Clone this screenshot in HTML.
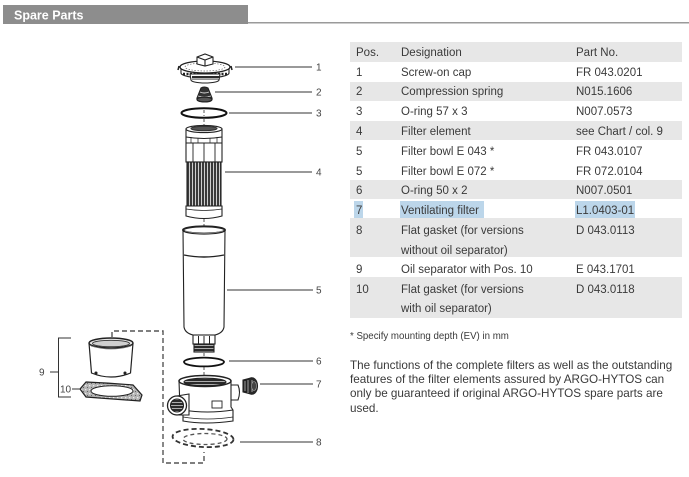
<!DOCTYPE html>
<html>
<head>
<meta charset="utf-8">
<style>
html,body{margin:0;padding:0;background:#fff;}
body{width:689px;height:477px;overflow:hidden;}
svg{display:block;}
text{font-family:"Liberation Sans",Arial,sans-serif;}
</style>
</head>
<body>
<svg width="689" height="477" viewBox="0 0 689 477" xmlns="http://www.w3.org/2000/svg">
<defs>
  <pattern id="pleat" width="3" height="10" patternUnits="userSpaceOnUse">
    <rect width="3" height="10" fill="#3a3a3a"/>
    <rect x="0" width="1" height="10" fill="#cfcfcf"/>
  </pattern>
  <pattern id="thread" width="4" height="3" patternUnits="userSpaceOnUse">
    <rect width="4" height="3" fill="#2a2a2a"/>
    <rect y="0" width="4" height="0.9" fill="#bbb"/>
  </pattern>
  <pattern id="speck" width="4" height="4" patternUnits="userSpaceOnUse">
    <rect width="4" height="4" fill="#b4b4b4"/>
    <rect x="1" y="1" width="1.3" height="1.3" fill="#ececec"/>
    <rect x="3" y="3" width="1" height="1" fill="#666"/>
  </pattern>
</defs>

<!-- Title bar -->
<rect x="3" y="5" width="245" height="19" fill="#8d8d8d"/>
<line x1="248" y1="22.7" x2="689" y2="22.7" stroke="#9a9a9a" stroke-width="1.5"/>
<text x="14" y="19.5" font-size="12.5" font-weight="bold" fill="#fff">Spare Parts</text>

<!-- ============ DRAWING ============ -->
<g stroke="#222" fill="#fff" stroke-width="1.1">

  <g stroke="#444" stroke-width="0.9" stroke-dasharray="3 2" fill="none">
    <line x1="204" y1="110" x2="204" y2="116"/>
    <line x1="204" y1="119" x2="204" y2="126"/>
    <line x1="204" y1="219" x2="204" y2="228"/>
    <line x1="204" y1="353" x2="204" y2="358"/>
    <line x1="204" y1="367" x2="204" y2="376"/>
  </g>

  <!-- 1: Screw-on cap -->
  <path d="M181,67 L181,73 A24,5 0 0 0 229,73 L229,67 Z" fill="#fff"/>
  <line x1="183" y1="74" x2="227" y2="74" stroke="#222" stroke-width="2.5" stroke-dasharray="2 1.5"/>
  <path d="M190,74 L191,80 A14,3 0 0 0 219,80 L220,74 Z" fill="#fff"/>
  <rect x="192" y="76" width="27" height="3.5" fill="url(#thread)" stroke="none"/>
  <ellipse cx="205" cy="67" rx="25" ry="6" fill="#fff" stroke-width="1.3"/>
  <path d="M179,66 L178,70 M231,66 L232,70" stroke-width="1.5"/>
  <ellipse cx="205" cy="67" rx="20" ry="4" fill="none" stroke="#666" stroke-width="0.7" stroke-dasharray="1.5 1.5"/>
  <path d="M197,57 L205,54 L213,57 L213,64 L205,66 L197,64 Z" fill="#fff"/>
  <path d="M197,57 L205,60 L213,57 M205,60 L205,66" fill="none"/>

  <!-- 2: Compression spring -->
  <path d="M201,88 Q204,86 208,88 L212,98 Q213,102 205,102 Q196,102 197,98 Z" fill="#333"/>
  <path d="M200,92 Q204,94 209,92 M198,96 Q204,98 211,96" stroke="#ddd" stroke-width="0.9" fill="none"/>
  <ellipse cx="204.5" cy="99.5" rx="7.5" ry="2.3" fill="#555" stroke="#222"/>

  <!-- 3: O-ring -->
  <ellipse cx="204" cy="113" rx="22.5" ry="4.8" fill="none" stroke="#111" stroke-width="2"/>

  <!-- 4: Filter element -->
  <rect x="186" y="129" width="36" height="33" fill="#fff"/>
  <ellipse cx="204" cy="129" rx="18" ry="3.6" fill="#fff"/>
  <ellipse cx="204" cy="128.5" rx="13" ry="2.2" fill="#555" stroke="#333"/>
  <path d="M186,137 Q204,140 222,137" fill="none"/>
  <path d="M186,143 L222,143 M193,143 L193,162 M204,143 L204,162 M215,143 L215,162" fill="none" stroke-width="0.9"/>
  <path d="M191,137 L191,143 M198,138 L198,143 M210,138 L210,143 M217,137 L217,143" fill="none" stroke-width="0.7"/>
  <rect x="187" y="162" width="34" height="44" fill="url(#pleat)" stroke="#222"/>
  <path d="M186,206 L186,216 Q204,221 222,216 L222,206 Z" fill="#fff"/>
  <path d="M186,209 Q204,212 222,209" fill="none" stroke-width="0.8"/>

  <!-- 5: Filter bowl -->
  <path d="M183,230 L184,327 Q185,333 193,335 L215,335 Q223,333 224,327 L225,230" fill="#fff"/>
  <ellipse cx="204" cy="230" rx="21" ry="3.6" fill="#fff" stroke-width="2"/>
  <path d="M185,231 Q204,236 223,231" fill="none" stroke="#888" stroke-width="0.8"/>
  <path d="M184,255 Q204,259 224,255" fill="none" stroke-width="1.4"/>
  <rect x="193" y="335" width="22" height="9" fill="#fff"/>
  <path d="M198.5,336 L198.5,344 M204,336 L204,344 M209.5,336 L209.5,344" fill="none" stroke-width="1"/>
  <rect x="194" y="344" width="20" height="8" fill="url(#thread)" stroke="#222"/>

  <!-- 6: O-ring -->
  <ellipse cx="204" cy="362" rx="20" ry="4.4" fill="none" stroke="#111" stroke-width="1.8"/>

  <!-- housing -->
  <path d="M228,385 L238,385 Q241,392 238,400 L229,400 Z" fill="#fff"/>
  <path d="M179,381 L180,408 L183,410 L183,421 Q205,425 233,421 L233,410 L231,407 L231,381 Z" fill="#fff"/>
  <path d="M183,410 Q207,414 233,410" fill="none"/>
  <path d="M183,417 Q207,421 233,417" fill="none" stroke-width="0.8"/>
  <ellipse cx="205" cy="381" rx="26" ry="5.5" fill="#fff" stroke-width="1.5"/>
  <ellipse cx="205" cy="382" rx="21" ry="3.8" fill="url(#thread)" stroke="#222"/>
  <rect x="212" y="401" width="10" height="7" fill="#fff" stroke-width="0.9"/>
  <path d="M177,396 L189,394 L189,415 L177,415 Z" fill="#fff"/>
  <circle cx="177" cy="405.5" r="9.5" fill="#fff" stroke-width="1.3"/>
  <circle cx="177" cy="405.5" r="6.5" fill="url(#thread)" stroke="#222"/>

  <!-- 7: Ventilating filter -->
  <path d="M243,380 L251,378 L251,394 L243,392 Z" fill="#222"/>
  <ellipse cx="252" cy="386" rx="5.5" ry="8.2" fill="#2a2a2a"/>
  <path d="M245,381 L245,391 M248,380 L248,393 M252,380 L252,392" stroke="#bbb" stroke-width="0.8" fill="none"/>
  <ellipse cx="254" cy="386" rx="2.5" ry="4.5" fill="#444" stroke="#aaa" stroke-width="0.6"/>

  <!-- 8: Flat gasket (dashed) -->
  <ellipse cx="203" cy="438" rx="30.5" ry="9" fill="none" stroke="#333" stroke-width="1.8" stroke-dasharray="5 3" transform="rotate(3 203 438)"/>
  <ellipse cx="205" cy="439" rx="22" ry="5.5" fill="none" stroke="#555" stroke-width="1.3" stroke-dasharray="4 3"/>

  <!-- dashed oil separator frame -->
  <path d="M112,337 L112,331 L163,331 L163,463 L204,463 L204,452" fill="none" stroke="#555" stroke-width="1.4" stroke-dasharray="5 3"/>

  <!-- 9: Oil separator cup -->
  <path d="M89,343 L91.5,373 Q111,381 130.5,373 L133,343" fill="#fff" stroke-width="1.2"/>
  <ellipse cx="111" cy="343" rx="22" ry="5" fill="#e6e6e6" stroke-width="1.5"/>
  <ellipse cx="111" cy="343.5" rx="18.5" ry="3.2" fill="#cfcfcf" stroke="#333" stroke-width="0.9"/>
  <path d="M91,346 Q111,352 131,346" fill="none" stroke="#777" stroke-width="0.7"/>
  <circle cx="96" cy="373" r="1" fill="#222"/>
  <circle cx="125" cy="373" r="1" fill="#222"/>

  <!-- 10: Flat gasket -->
  <path d="M80,389 L86,382 Q110,383 133,385 L142,395 L140,401 Q112,399 86,397 Z" fill="url(#speck)" stroke="#222" stroke-width="1.2"/>
  <ellipse cx="112" cy="391" rx="21" ry="5.3" fill="#fff" stroke="#222" stroke-width="1"/>

  <!-- bracket -->
  <path d="M71,338 L58.5,338 L58.5,397 L71,397" fill="none" stroke="#333" stroke-width="1"/>
</g>

<g stroke="#333" stroke-width="1">
  <line x1="235" y1="67" x2="312" y2="67"/>
  <line x1="215" y1="92" x2="312" y2="92"/>
  <line x1="229" y1="113" x2="312" y2="113"/>
  <line x1="225" y1="172" x2="312" y2="172"/>
  <line x1="227" y1="290" x2="313" y2="290"/>
  <line x1="229" y1="361" x2="313" y2="361"/>
  <line x1="260" y1="384" x2="313" y2="384"/>
  <line x1="240" y1="442" x2="313" y2="442"/>
  <line x1="50" y1="372" x2="58" y2="372"/>
  <line x1="72" y1="389" x2="80" y2="389"/>
</g>

<g font-size="10" fill="#444">
  <text x="316" y="70.5">1</text>
  <text x="316" y="95.5">2</text>
  <text x="316" y="116.5">3</text>
  <text x="316" y="175.5">4</text>
  <text x="316" y="293.5">5</text>
  <text x="316" y="364.5">6</text>
  <text x="316" y="387.5">7</text>
  <text x="316" y="445.5">8</text>
  <text x="39" y="375.5">9</text>
  <text x="60" y="392.5">10</text>
</g>

<!-- ============ TABLE ============ -->
<g fill="#e7e7e7">
  <rect x="350" y="42" width="332" height="20"/>
  <rect x="350" y="82" width="332" height="19"/>
  <rect x="350" y="121" width="332" height="19"/>
  <rect x="350" y="180" width="332" height="19"/>
  <rect x="350" y="218" width="332" height="39"/>
  <rect x="350" y="277" width="332" height="41"/>
</g>
<g fill="#bcd6ea">
  <rect x="354" y="201" width="9" height="17"/>
  <rect x="400" y="201" width="84" height="17"/>
  <rect x="575" y="201" width="60" height="17"/>
</g>
<g font-size="11.5" fill="#3a3a3a">
  <text x="356" y="56">Pos.</text><text x="401" y="56">Designation</text><text x="576" y="56">Part No.</text>
  <text x="356" y="76">1</text><text x="401" y="76">Screw-on cap</text><text x="576" y="76">FR 043.0201</text>
  <text x="356" y="95">2</text><text x="401" y="95">Compression spring</text><text x="576" y="95">N015.1606</text>
  <text x="356" y="115">3</text><text x="401" y="115">O-ring 57 x 3</text><text x="576" y="115">N007.0573</text>
  <text x="356" y="135">4</text><text x="401" y="135">Filter element</text><text x="576" y="135">see Chart / col. 9</text>
  <text x="356" y="155">5</text><text x="401" y="155">Filter bowl E 043 *</text><text x="576" y="155">FR 043.0107</text>
  <text x="356" y="175">5</text><text x="401" y="175">Filter bowl E 072 *</text><text x="576" y="175">FR 072.0104</text>
  <text x="356" y="194">6</text><text x="401" y="194">O-ring 50 x 2</text><text x="576" y="194">N007.0501</text>
  <text x="356" y="214">7</text><text x="401" y="214">Ventilating filter</text><text x="576" y="214">L1.0403-01</text>
  <text x="356" y="234">8</text><text x="401" y="234">Flat gasket (for versions</text><text x="576" y="234">D 043.0113</text>
  <text x="401" y="254">without oil separator)</text>
  <text x="356" y="273">9</text><text x="401" y="273">Oil separator with Pos. 10</text><text x="576" y="273">E 043.1701</text>
  <text x="356" y="293">10</text><text x="401" y="293">Flat gasket (for versions</text><text x="576" y="293">D 043.0118</text>
  <text x="401" y="312">with oil separator)</text>
</g>
<text x="350" y="339" font-size="9.7" fill="#3a3a3a">* Specify mounting depth (EV) in mm</text>
<g font-size="11.7" fill="#3a3a3a">
  <text x="350" y="369">The functions of the complete filters as well as the outstanding</text>
  <text x="350" y="383">features of the filter elements assured by ARGO-HYTOS can</text>
  <text x="350" y="397">only be guaranteed if original ARGO-HYTOS spare parts are</text>
  <text x="350" y="412">used.</text>
</g>
</svg>
</body>
</html>
